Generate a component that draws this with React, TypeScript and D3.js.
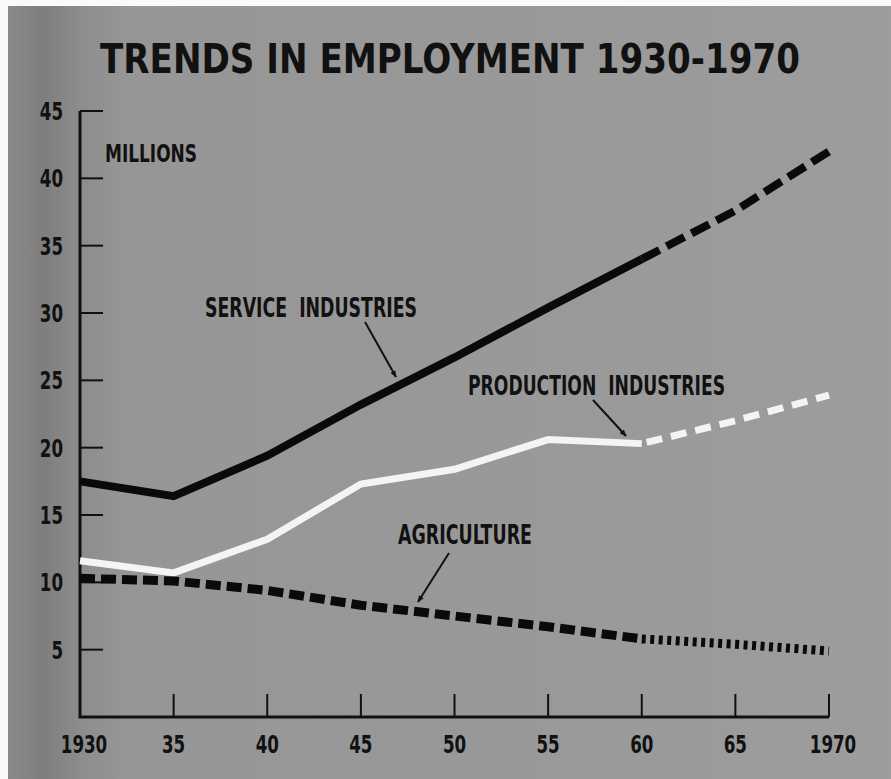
import React from 'react';
import * as d3 from 'd3';

// values, millions of workers
const years = [1930, 1935, 1940, 1945, 1950, 1955, 1960, 1965, 1970];
const service = [17.5, 16.4, 19.4, 23.2, 26.7, 30.4, 34.0, 37.6, 42.0];
const production = [11.6, 10.7, 13.2, 17.3, 18.4, 20.6, 20.3, 22.0, 23.9];
const agriculture = [10.3, 10.1, 9.4, 8.3, 7.5, 6.7, 5.8, 5.4, 4.9];

const yTicks = [5, 10, 15, 20, 25, 30, 35, 40, 45];
const xTickLabels = ['1930', '35', '40', '45', '50', '55', '60', '65', '1970'];
const lastActual = 1960;

const W = 891;
const H = 779;
const font = "'Liberation Sans Narrow', 'DejaVu Sans Condensed', sans-serif";

export default function App() {
  const x = d3.scaleLinear().domain([1930, 1970]).range([80, 829]);
  const y = d3.scaleLinear().domain([0, 45]).range([717, 111]);

  const line = d3
    .line<[number, number]>()
    .x((d) => x(d[0]))
    .y((d) => y(d[1]));

  // split a series into the recorded part and the projection
  const parts = (vals: number[]) => {
    const pts = years.map((yr, i) => [yr, vals[i]] as [number, number]);
    return {
      actual: line(pts.filter((p) => p[0] <= lastActual)) || '',
      proj: line(pts.filter((p) => p[0] >= lastActual)) || '',
    };
  };

  const s = parts(service);
  const p = parts(production);
  const a = parts(agriculture);

  // digits in the original are narrow, ~11.5px each
  const digitW = (t: string) => t.length * 11.6;

  return (
    <svg
      width={W}
      height={H}
      style={{ position: 'absolute', left: 0, top: 0, display: 'block' }}
    >
      <defs>
        <linearGradient id="shade" x1="0" x2="1" y1="0" y2="0">
          <stop offset="0" stopColor="#8a8a8a" />
          <stop offset="0.04" stopColor="#7e7e7e" />
          <stop offset="0.08" stopColor="#8c8c8c" />
          <stop offset="0.13" stopColor="#969696" />
          <stop offset="0.6" stopColor="#999999" />
          <stop offset="1" stopColor="#9d9d9d" />
        </linearGradient>
        <marker
          id="arrow"
          viewBox="0 0 10 10"
          refX="9"
          refY="5"
          markerWidth="7"
          markerHeight="7"
          orient="auto"
          markerUnits="userSpaceOnUse"
        >
          <path d="M0,1 L10,5 L0,9 Z" fill="#111" />
        </marker>
      </defs>

      <rect width={W} height={H} fill="#fafafa" />
      <rect x={8} y={6} width={W - 8} height={H - 6} fill="url(#shade)" />

      <text
        x={100}
        y={73}
        fontFamily={font}
        fontWeight="bold"
        fontSize={41}
        textLength={700}
        lengthAdjust="spacingAndGlyphs"
        fill="#111"
      >
        TRENDS IN EMPLOYMENT 1930-1970
      </text>

      {/* axes */}
      <path
        d={`M${x(1930)},${y(45)} V${y(0)} H${x(1970)}`}
        fill="none"
        stroke="#111"
        strokeWidth={3}
      />
      {yTicks.map((t) => (
        <g key={t}>
          <line x1={x(1930)} x2={x(1930) + 23} y1={y(t)} y2={y(t)} stroke="#111" strokeWidth={2} />
          <text
            x={63 - digitW(String(t))}
            y={y(t) + 9}
            fontFamily={font}
            fontWeight="bold"
            fontSize={24}
            textLength={digitW(String(t))}
            lengthAdjust="spacingAndGlyphs"
            fill="#111"
          >
            {t}
          </text>
        </g>
      ))}
      {years.map((yr, i) => {
        const label = xTickLabels[i];
        const w = digitW(label);
        const cx = x(yr) + (i === 0 ? 4 : i === years.length - 1 ? 4 : 0);
        return (
          <g key={yr}>
            {i > 0 && (
              <line x1={x(yr)} x2={x(yr)} y1={y(0)} y2={y(0) - 23} stroke="#111" strokeWidth={2} />
            )}
            <text
              x={cx - w / 2}
              y={753}
              fontFamily={font}
              fontWeight="bold"
              fontSize={25}
              textLength={w}
              lengthAdjust="spacingAndGlyphs"
              fill="#111"
            >
              {label}
            </text>
          </g>
        );
      })}

      <text x={105} y={162} fontFamily={font} fontWeight="bold" fontSize={24} textLength={92} lengthAdjust="spacingAndGlyphs" fill="#111">
        MILLIONS
      </text>

      {/* series */}
      <path d={s.actual} fill="none" stroke="#0a0a0a" strokeWidth={8} />
      <path d={s.proj} fill="none" stroke="#0a0a0a" strokeWidth={8} strokeDasharray="20 8" />

      <path d={p.actual} fill="none" stroke="#f4f4f4" strokeWidth={7} />
      <path d={p.proj} fill="none" stroke="#f4f4f4" strokeWidth={7} strokeDasharray="16 9" strokeDashoffset={-5} />

      <path d={a.actual} fill="none" stroke="#0a0a0a" strokeWidth={9} strokeDasharray="15 6" />
      <path d={a.proj} fill="none" stroke="#0a0a0a" strokeWidth={9} strokeDasharray="4 4.5" />

      {/* labels with pointers */}
      <text x={205} y={317} fontFamily={font} fontWeight="bold" fontSize={27} textLength={212} lengthAdjust="spacingAndGlyphs" fill="#111" style={{ whiteSpace: 'pre' }}>
        SERVICE  INDUSTRIES
      </text>
      <line x1={365} y1={322} x2={396} y2={377} stroke="#111" strokeWidth={2} markerEnd="url(#arrow)" />

      <text x={468} y={395} fontFamily={font} fontWeight="bold" fontSize={27} textLength={257} lengthAdjust="spacingAndGlyphs" fill="#111" style={{ whiteSpace: 'pre' }}>
        PRODUCTION  INDUSTRIES
      </text>
      <line x1={593} y1={400} x2={626} y2={436} stroke="#111" strokeWidth={2} markerEnd="url(#arrow)" />

      <text x={398} y={544} fontFamily={font} fontWeight="bold" fontSize={27} textLength={134} lengthAdjust="spacingAndGlyphs" fill="#111">
        AGRICULTURE
      </text>
      <line x1={449} y1={553} x2={418} y2={602} stroke="#111" strokeWidth={2} markerEnd="url(#arrow)" />
    </svg>
  );
}
